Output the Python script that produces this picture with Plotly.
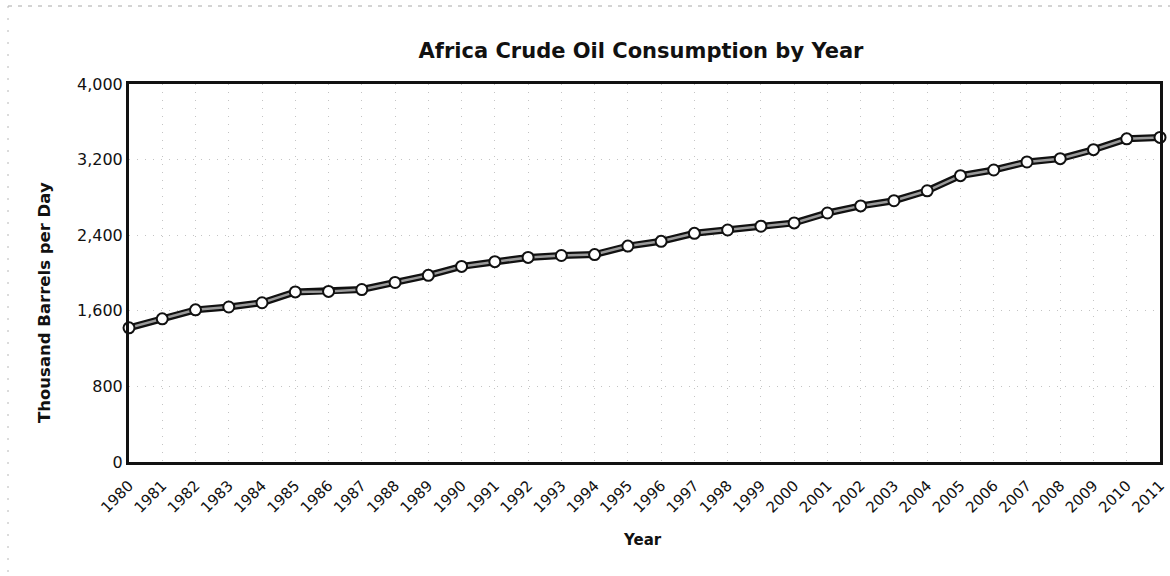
import plotly.graph_objects as go

years = list(range(1980, 2012))
consumption = [1420, 1515, 1610, 1640, 1685, 1800, 1805, 1825, 1900, 1975,
               2070, 2120, 2165, 2185, 2195, 2285, 2335, 2420, 2455, 2495,
               2530, 2635, 2710, 2765, 2870, 3030, 3090, 3175, 3210, 3305,
               3420, 3435]
y_ticks = [0, 800, 1600, 2400, 3200, 4000]
title_text = "Africa Crude Oil Consumption by Year"
x_title = "Year"
y_title = "Thousand Barrels per Day"

font_family = "DejaVu Sans, Verdana, sans-serif"
ink = "#111111"

fig = go.Figure()
# dark outline of the line
fig.add_trace(go.Scatter(
    x=years, y=consumption, mode="lines",
    line=dict(color=ink, width=7),
    hoverinfo="skip", showlegend=False, cliponaxis=False))
# lighter inner line with markers
fig.add_trace(go.Scatter(
    x=years, y=consumption, mode="lines+markers",
    line=dict(color="#9a9a9a", width=2.5),
    marker=dict(symbol="circle", size=11, color="white",
                line=dict(color=ink, width=2)),
    showlegend=False, cliponaxis=False))

W, H = 1170, 576
L, R, T, B = 129, 10, 84, 114
pw, ph = W - L - R, H - T - B

fig.update_layout(
    width=W, height=H,
    paper_bgcolor="white", plot_bgcolor="white",
    margin=dict(l=L, r=R, t=T, b=B, autoexpand=False),
    title=dict(text="<b>" + title_text + "</b>", x=641 / W, xanchor="center",
               y=1 - 51 / H, yanchor="middle",
               font=dict(family=font_family, size=21, color=ink)),
    font=dict(family=font_family, color=ink),
)

fig.update_xaxes(
    range=[1980, 2011], tickmode="array", tickvals=years,
    ticktext=[str(y) for y in years], tickangle=-45,
    tickfont=dict(size=15, family=font_family, color=ink),
    ticklabelstandoff=6,
    showgrid=True, gridcolor="#c4c4c4", griddash="1px,7px", gridwidth=1,
    showline=True, linecolor=ink, linewidth=3, mirror=True,
    ticks="", zeroline=False, automargin=False,
)
fig.update_yaxes(
    range=[0, 4000], tickmode="array", tickvals=y_ticks,
    ticktext=[f"{v:,}" for v in y_ticks],
    tickfont=dict(size=16, family=font_family, color=ink),
    showgrid=True, gridcolor="#c4c4c4", griddash="1px,7px", gridwidth=1,
    showline=True, linecolor=ink, linewidth=3, mirror=True,
    ticks="", zeroline=False, automargin=False,
)

# axis titles
fig.add_annotation(text="<b>" + x_title + "</b>", xref="paper", yref="paper",
                   x=(642 - L) / pw, y=(H - B - 540) / ph,
                   xanchor="center", yanchor="middle", showarrow=False,
                   font=dict(size=15, family=font_family, color=ink))
fig.add_annotation(text="<b>" + y_title + "</b>", xref="paper", yref="paper",
                   x=(44 - L) / pw, y=(H - B - 303) / ph, textangle=-90,
                   xanchor="center", yanchor="middle", showarrow=False,
                   font=dict(size=16.5, family=font_family, color=ink))

# faint scanned page border (dotted) at top and left
fig.add_shape(type="line", xref="paper", yref="paper",
              x0=(8 - L) / pw, x1=(W - L) / pw,
              y0=(H - B - 6) / ph, y1=(H - B - 6) / ph,
              line=dict(color="#a8a8a8", width=1, dash="4px,6px"))
fig.add_shape(type="line", xref="paper", yref="paper",
              x0=(8 - L) / pw, x1=(8 - L) / pw,
              y0=(H - B - 6) / ph, y1=(H - B - H) / ph,
              line=dict(color="#b8b8b8", width=1, dash="2px,10px"))

fig.write_html("out.html",
               config={"displayModeBar": False},
               post_script="document.body.style.margin='0px';")
